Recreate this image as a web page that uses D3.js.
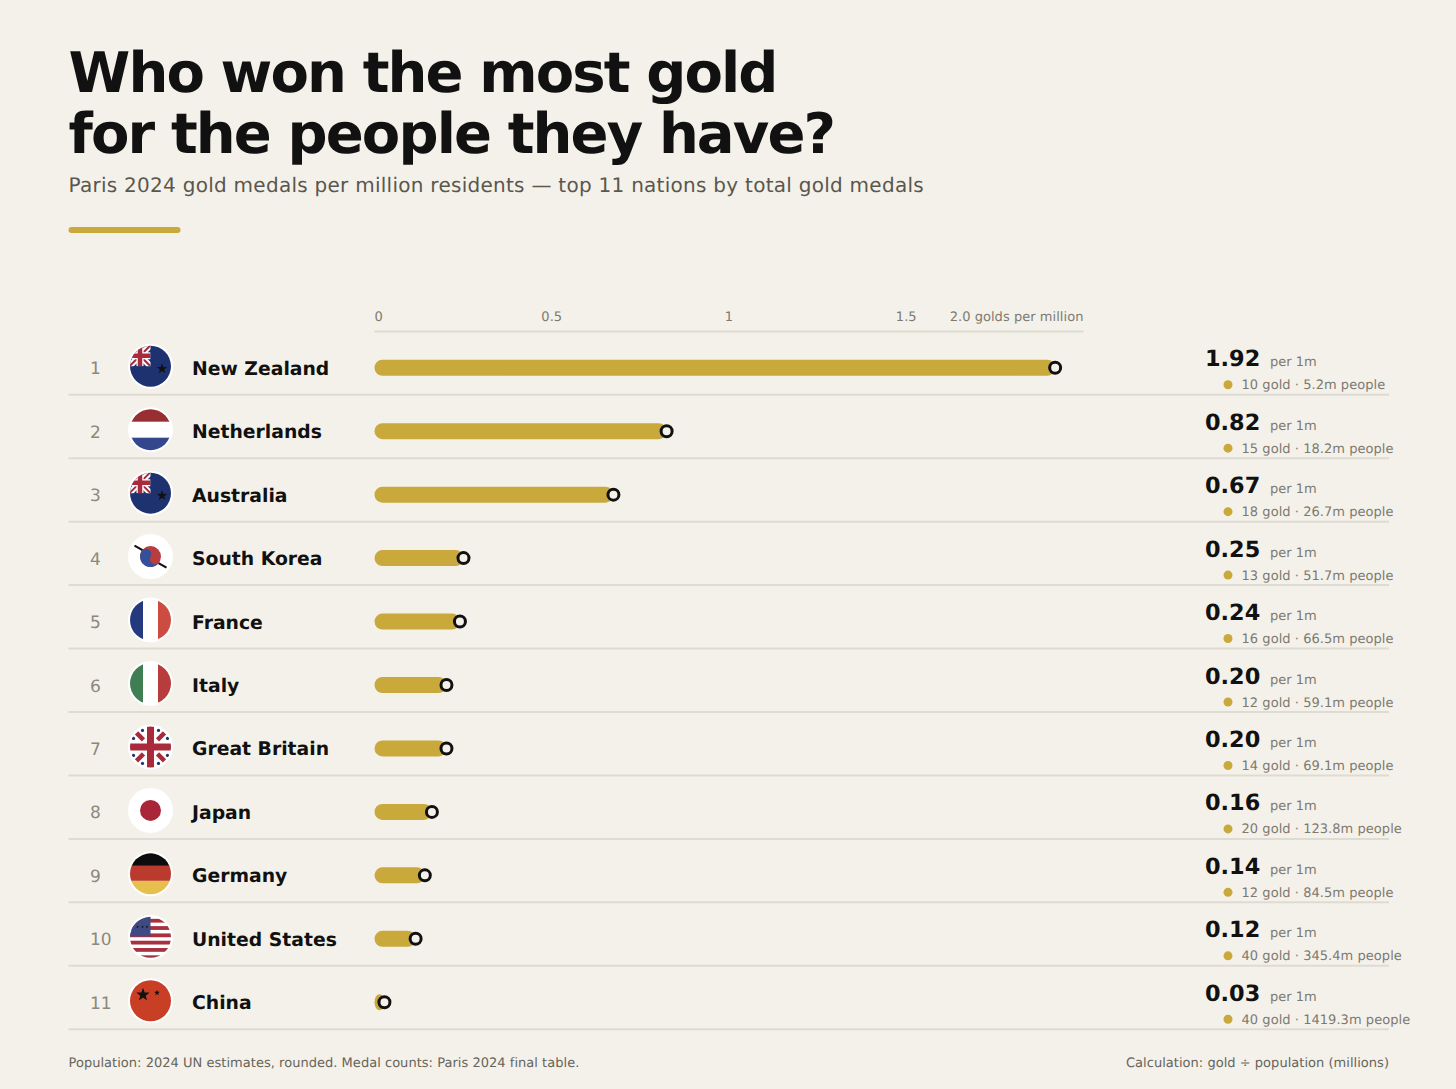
<!DOCTYPE html>
<html>
<head>
<meta charset="utf-8">
<script src="https://cdnjs.cloudflare.com/ajax/libs/d3/7.8.5/d3.min.js"></script>
<style>
html, body { margin: 0; padding: 0; background: #f4f1ea; }
svg { display: block; font-family: "DejaVu Sans", sans-serif; text-rendering: geometricPrecision; }
</style>
</head>
<body>
<div id="chart"></div>
<script>
var countries = ["New Zealand", "Netherlands", "Australia", "South Korea", "France", "Italy", "Great Britain", "Japan", "Germany", "United States", "China"];
var perMillion = [1.92, 0.824, 0.674, 0.251, 0.241, 0.203, 0.203, 0.162, 0.142, 0.116, 0.028];
var golds = [10, 15, 18, 13, 16, 12, 14, 20, 12, 40, 40];
var population = [5.2, 18.2, 26.7, 51.7, 66.5, 59.1, 69.1, 123.8, 84.5, 345.4, 1419.3];
var flags = ["ensign", "nl", "ensign", "kr", "fr", "it", "gb", "jp", "de", "us", "cn"];
var axisTicks = [0, 0.5, 1, 1.5, 2];
var axisLabels = ["0", "0.5", "1", "1.5", "2.0 golds per million"];

var width = 1456, height = 1089;
var gold = "#c9a83c", ink = "#111111", rule = "#dedbd2", bg = "#f4f1ea";
var navy = "#1f3270", red = "#a92a3a";

var rows = countries.map(function (d, i) {
    return { name: d, rank: i + 1, value: perMillion[i], gold: golds[i], pop: population[i], flag: flags[i] };
});

var svg = d3.select("#chart").append("svg")
    .attr("width", width)
    .attr("height", height);

svg.append("rect").attr("width", width).attr("height", height).attr("fill", bg);

// heading
svg.append("text").attr("x", 68.5).attr("y", 92).attr("font-size", 56).attr("font-weight", 700).attr("letter-spacing", -1.88).attr("fill", ink).text("Who won the most gold");
svg.append("text").attr("x", 68.5).attr("y", 153).attr("font-size", 56).attr("font-weight", 700).attr("letter-spacing", -1.88).attr("fill", ink).text("for the people they have?");
svg.append("text").attr("x", 68.5).attr("y", 192).attr("font-size", 20).attr("letter-spacing", 0.27).attr("fill", "#5a574e").text("Paris 2024 gold medals per million residents — top 11 nations by total gold medals");
svg.append("rect").attr("x", 68.5).attr("y", 227).attr("width", 112).attr("height", 6).attr("rx", 3).attr("fill", gold);

var x = d3.scaleLinear().domain([0, 2]).range([374.5, 1083.5]);
var y = d3.scaleBand().domain(countries).range([336, 1034]);

// axis
var axis = svg.append("g");
axis.append("line")
    .attr("x1", x(0)).attr("x2", x(2))
    .attr("y1", 331.5).attr("y2", 331.5)
    .attr("stroke", rule).attr("stroke-width", 2);
axis.selectAll("text")
    .data(axisTicks)
    .enter().append("text")
    .attr("x", function (d) { return x(d); })
    .attr("y", 320.5)
    .attr("font-size", 13)
    .attr("letter-spacing", 0.05)
    .attr("fill", "#7d7a70")
    .style("text-anchor", function (d, i) {
        return i == 0 ? "start" : (i == axisTicks.length - 1 ? "end" : "middle");
    })
    .text(function (d, i) { return axisLabels[i]; });

var row = svg.selectAll(".row")
    .data(rows)
    .enter().append("g")
    .attr("class", "row")
    .attr("transform", function (d) { return "translate(0," + (y(d.name) + y.bandwidth() / 2) + ")"; });

row.append("line")
    .attr("x1", 68.5).attr("x2", 1389)
    .attr("y1", 27).attr("y2", 27)
    .attr("stroke", rule).attr("stroke-width", 2);

row.append("text")
    .attr("x", 90).attr("y", 6.5)
    .attr("font-size", 17)
    .attr("fill", "#8b887d")
    .text(function (d) { return d.rank; });

row.append("text")
    .attr("x", 192).attr("y", 7)
    .attr("font-size", 18.8)
    .attr("font-weight", 700)
    .attr("fill", ink)
    .text(function (d) { return d.name; });

// bars
row.append("rect")
    .attr("x", x(0)).attr("y", -8)
    .attr("width", function (d) { return x(d.value) - x(0); })
    .attr("height", 16).attr("rx", 8)
    .attr("fill", gold);

row.append("circle")
    .attr("cx", function (d) { return x(d.value); })
    .attr("r", 5.5)
    .attr("fill", bg)
    .attr("stroke", ink)
    .attr("stroke-width", 3);

// right column
row.append("text")
    .attr("x", 1205).attr("y", -1.5)
    .attr("font-size", 22.4)
    .attr("font-weight", 700)
    .attr("fill", ink)
    .text(function (d) { return d.value.toFixed(2); });

row.append("text")
    .attr("x", 1270).attr("y", -1.5)
    .attr("font-size", 13)
    .attr("fill", "#7d7a70")
    .text("per 1m");

row.append("circle")
    .attr("cx", 1228).attr("cy", 17)
    .attr("r", 4.5)
    .attr("fill", gold);

row.append("text")
    .attr("x", 1241.5).attr("y", 21.5)
    .attr("font-size", 13)
    .attr("letter-spacing", 0.05)
    .attr("fill", "#7d7a70")
    .text(function (d) { return d.gold + " gold · " + d.pop + "m people"; });

// flags
var defs = svg.append("defs");
defs.append("clipPath").attr("id", "disc").append("circle").attr("r", 20.5);
defs.append("clipPath").attr("id", "canton").append("rect").attr("x", -21).attr("y", -21).attr("width", 21).attr("height", 21);

function band(g, x0, y0, w, h, fill) {
    g.append("rect").attr("x", x0).attr("y", y0).attr("width", w).attr("height", h).attr("fill", fill);
}

function seg(g, x1, y1, x2, y2, color, sw) {
    g.append("line").attr("x1", x1).attr("y1", y1).attr("x2", x2).attr("y2", y2)
        .attr("stroke", color).attr("stroke-width", sw);
}

function star(g, cx, cy, r) {
    var pts = d3.range(10).map(function (i) {
        var a = -Math.PI / 2 + i * Math.PI / 5, q = i % 2 ? r * 0.4 : r;
        return [cx + q * Math.cos(a), cy + q * Math.sin(a)];
    });
    g.append("polygon").attr("points", pts.join(" ")).attr("fill", "#111");
}

var flagDraw = {
    ensign: function (g) {
        band(g, -22, -22, 44, 44, navy);
        var c = g.append("g").attr("clip-path", "url(#canton)");
        seg(c, -21, -21, 0, 0, "#fff", 6);
        seg(c, 0, -21, -21, 0, "#fff", 6);
        seg(c, -21, -21, 0, 0, red, 2);
        seg(c, 0, -21, -21, 0, red, 2);
        seg(c, -10.5, -21, -10.5, 0, "#fff", 7);
        seg(c, -21, -10.5, 0, -10.5, "#fff", 7);
        seg(c, -10.5, -21, -10.5, 0, red, 4.5);
        seg(c, -21, -10.5, 0, -10.5, red, 4.5);
        star(g, 11.5, 2.5, 5.5);
    },
    nl: function (g) {
        band(g, -22, -22, 44, 14, "#982d32");
        band(g, -22, 8, 44, 14, "#34478c");
    },
    kr: function (g) {
        g.append("circle").attr("r", 10.5).attr("fill", "#b93c40");
        g.append("path").attr("d", "M-9.1,-5.25A10.5,10.5 0 0 0 9.1,5.25A5.25,5.25 0 0 1 0,0A5.25,5.25 0 0 0 -9.1,-5.25Z").attr("fill", "#33509b");
        seg(g, -16, -11, -8, -6.5, "#111", 2.2);
        seg(g, 8, 6.5, 16, 11, "#111", 2.2);
    },
    fr: function (g) {
        band(g, -22, -22, 14.5, 44, "#25397e");
        band(g, 7.5, -22, 14.5, 44, "#cc4c42");
    },
    it: function (g) {
        band(g, -22, -22, 14.5, 44, "#3f7d52");
        band(g, 7.5, -22, 14.5, 44, "#b83c3c");
    },
    gb: function (g) {
        band(g, -22, -22, 44, 44, "#fff");
        [[-1, -1], [1, -1], [-1, 1], [1, 1]].forEach(function (s) {
            g.append("circle").attr("cx", s[0] * 8).attr("cy", s[1] * 16.5).attr("r", 1.6).attr("fill", navy);
            g.append("circle").attr("cx", s[0] * 17).attr("cy", s[1] * 8.5).attr("r", 1.6).attr("fill", navy);
            seg(g, s[0] * 14, s[1] * 14, s[0] * 7, s[1] * 7, red, 4.5);
        });
        seg(g, 0, -22, 0, 22, red, 7);
        seg(g, -22, 0, 22, 0, red, 7);
    },
    jp: function (g) {
        g.append("circle").attr("r", 10.5).attr("fill", "#a92638");
    },
    de: function (g) {
        band(g, -22, -22, 44, 14, "#0c0c0c");
        band(g, -22, -8, 44, 15, "#bb3a2e");
        band(g, -22, 7, 44, 15, "#e6bf4d");
    },
    us: function (g) {
        d3.range(6).forEach(function (i) {
            band(g, -22, -18.5 + i * 7.3, 44, 3.8, "#a8303f");
        });
        band(g, -22, -22, 22, 21, "#3d4a83");
        star(g, -13, -10.5, 1.4);
        star(g, -8, -10.5, 1.4);
        star(g, -3.5, -10.5, 1.4);
    },
    cn: function (g) {
        band(g, -22, -22, 44, 44, "#c83f26");
        star(g, -7.5, -6, 7);
        star(g, 6.5, -8, 3);
    }
};

var flag = row.append("g").attr("transform", "translate(150.5,-1.5)");
flag.append("circle").attr("r", 22.5).attr("fill", "#fff");
flag.append("g").attr("clip-path", "url(#disc)").each(function (d) {
    flagDraw[d.flag](d3.select(this));
});

// footer
svg.append("text").attr("x", 68.5).attr("y", 1067).attr("font-size", 13).attr("letter-spacing", 0.03).attr("fill", "#67645a").text("Population: 2024 UN estimates, rounded. Medal counts: Paris 2024 final table.");
svg.append("text").attr("x", 1389).attr("y", 1067).attr("font-size", 13).attr("letter-spacing", 0.03).attr("fill", "#67645a").style("text-anchor", "end").text("Calculation: gold ÷ population (millions)");
</script>
</body>
</html>
